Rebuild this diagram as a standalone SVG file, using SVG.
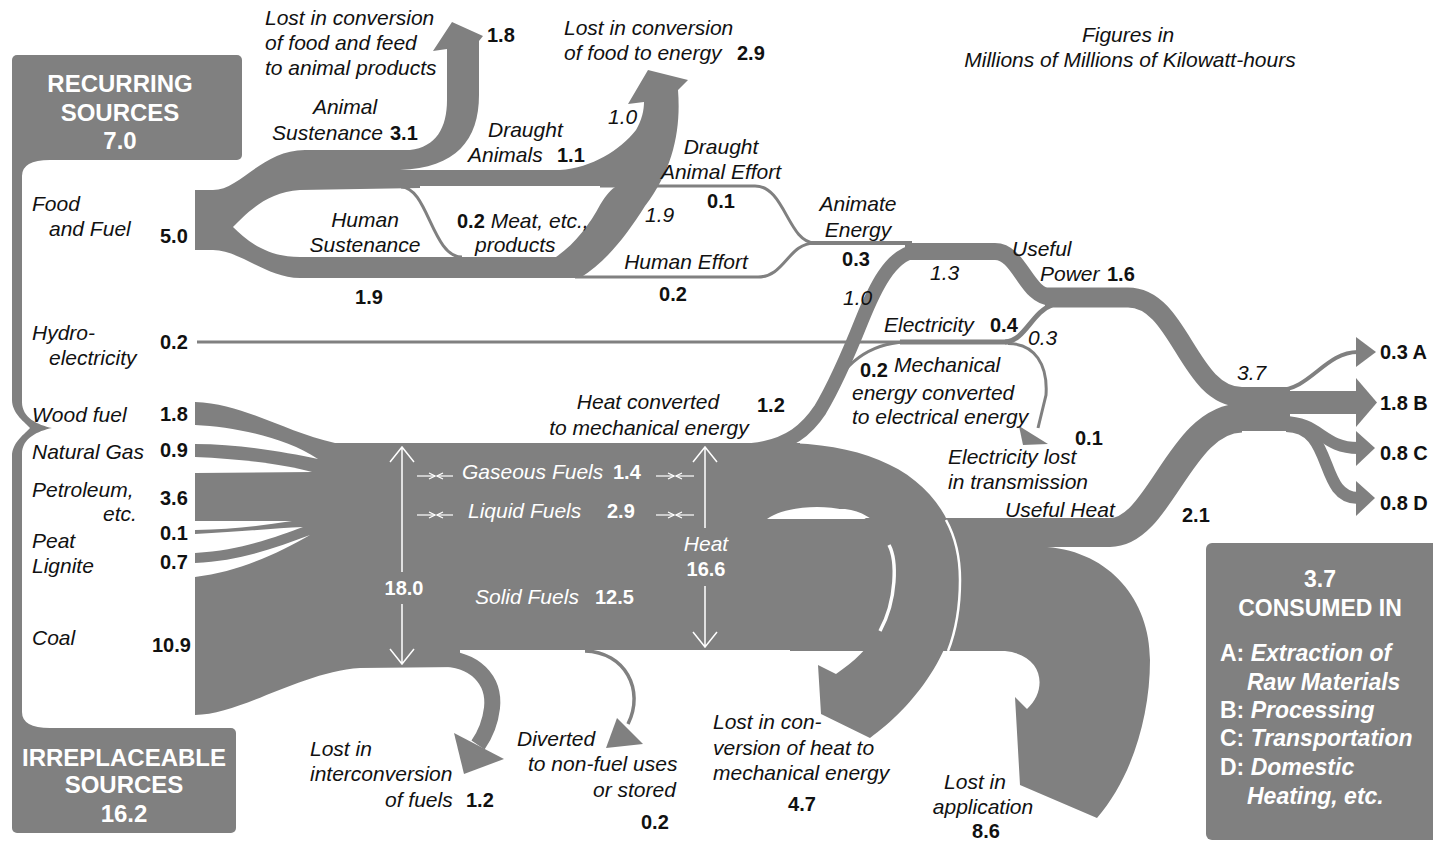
<svg xmlns="http://www.w3.org/2000/svg" width="1433" height="843" viewBox="0 0 1433 843">
<defs>
<style>
.g{fill:#808080}
.s{fill:none;stroke:#808080}
.ws{fill:#fff}
.wl{fill:none;stroke:#fff;stroke-width:1.5}
.wa{fill:none;stroke:#fff;stroke-width:1.2}
text{font-family:"Liberation Sans",Arial,Helvetica,sans-serif}
.i{font-style:italic;font-size:21px;fill:#111}
.n{font-style:normal;font-weight:bold;font-size:20px;fill:#111}
.bx{font-weight:bold;font-size:24px;fill:#fff}
.wi{font-style:italic;font-size:21px;fill:#fff}
.wn{font-style:normal;font-weight:bold;font-size:20px;fill:#fff}
.bt{font-weight:bold;font-size:23px;fill:#fff}
</style>
<marker id="sa" viewBox="0 0 8 8" refX="7" refY="4" markerWidth="8" markerHeight="8" markerUnits="userSpaceOnUse" orient="auto"><path d="M1,1 L7,4 L1,7" fill="none" stroke="#fff" stroke-width="1.2"/></marker>
</defs>
<rect width="1433" height="843" fill="#fff"/>

<g id="connectors">
  <!-- source bracket -->
  <path class="g" d="M12,150 L50,150 L50,160 Q22,160 22,176 L22,402 C22,418 38,425 52,428 C38,431 22,438 22,454 L22,712 Q22,728 50,728 L50,740 L12,740 L12,456 C12,442 26,433 30,428 C26,423 12,414 12,400 Z"/>
  <!-- food: animal sustenance, lost 1.8, human sustenance start -->
  <path class="g" d="M195,190 L213,190 C240,190 262,150 305,150 L410,150 C436,147 447,128 447,100 L447,49 L433,51 L452,22 L483,36 L479,41 L479,95 C479,140 456,168 400,170 L420,170 L420,188 L300,190 C266,192 246,214 233,227 C246,240 266,257 300,257 L440,257 L440,278 L300,278 C266,278 240,250 213,250 L195,250 Z"/>
  <!-- draught animals + human sustenance + lost 2.9 -->
  <path class="g" d="M400,170 L560,170 C592,168 620,150 636,130 C642,120 644,110 644,102 L628,104 L648,70 L688,80 L678,90 C681,128 674,168 645,206 C626,236 606,262 580,278 L440,278 L440,257 L556,257 C575,244 590,224 600,205 C606,195 611,189 617,186 L400,186 Z"/>
  <path class="s" stroke-width="3" d="M401,187 C428,187 432,257 462,257"/>
  <path class="s" stroke-width="3" d="M600,186 L755,186 C785,186 788,243 815,243"/>
  <path class="s" stroke-width="3" d="M575,277 L758,277 C785,277 788,243 815,243"/>
  <path class="s" stroke-width="4" d="M810,243 L912,243"/>
  <!-- hydro / electricity -->
  <path class="s" stroke-width="3" d="M197,342 L905,342"/>
  <path class="s" stroke-width="5" d="M900,342 L1010,342"/>
  <!-- fuels block -->
  <path class="g" d="M195,402 C245,404 285,432 335,443 L800,443 L800,650 L460,650 L460,667 L360,668 C300,672 240,715 195,715 Z"/>
  <!-- heat converted to mechanical -->
  <path class="s" stroke-width="14" d="M752,450 C790,446 808,428 820,410 C835,385 850,350 862,320 C875,288 890,256 915,251"/>
  <path class="s" stroke-width="3" d="M826,400 C838,374 860,344 905,342"/>
  <!-- useful power -->
  <path class="s" stroke-width="17" d="M905,251.5 L995,251.5 C1020,251.5 1026,297.5 1052,297.5"/>
  <path class="s" stroke-width="5" d="M1005,342 C1025,341 1032,312 1052,305"/>
  <path class="s" stroke-width="20" d="M1045,297.5 L1128,297.5 C1180,297.5 1188,397 1242,397"/>
  <!-- electricity lost -->
  <path class="s" stroke-width="3" d="M1008,343.5 C1035,343.5 1048,365 1046,395 L1038,428"/>
  <polygon class="g" points="1019,426 1048,444 1023,445"/>
  <!-- lost in interconversion -->
  <path class="s" stroke-width="16" d="M440,658.5 C475,658.5 495,680 492,708 C490,725 485,735 478,745"/>
  <polygon class="g" points="454,733 504,759 464,774"/>
  <!-- diverted -->
  <path class="s" stroke-width="3.5" d="M585,651 C625,652 645,690 628,724"/>
  <polygon class="g" points="617,718 643,744 606,748"/>
  <!-- lost in application 8.6 -->
  <path class="g" d="M790,547 L1047,547 C1110,552 1150,600 1150,660 C1150,720 1130,780 1097,818 L1020,785 L1015,697 L1027,709 C1048,690 1044,655 1005,651 L790,651 Z"/>
  <!-- useful heat -->
  <path class="s" stroke-width="29" d="M780,532.5 L1110,532.5 C1160,532.5 1180,418 1242,418"/>
  <!-- lost in conversion of heat 4.7 -->
  <path class="g" d="M780,443 C890,443 960,490 960,580 C960,650 912,708 870,738 L821,714 L818,665 L836,674 C872,650 896,615 896,578 C896,540 878,513 845,509 L780,509 Z"/>
  <!-- junction and outputs -->
  <rect class="g" x="1235" y="387" width="55" height="44"/>
  <path class="s" stroke-width="4" d="M1278,390 C1310,390 1325,352 1358,352"/>
  <polygon class="g" points="1356,337 1376,352 1356,367"/>
  <rect class="g" x="1285" y="391" width="73" height="23"/>
  <polygon class="g" points="1356,378 1377,402.5 1356,427"/>
  <path class="s" stroke-width="12" d="M1283,422 C1320,422 1322,448 1358,448"/>
  <polygon class="g" points="1356,431 1375,448 1356,466"/>
  <path class="s" stroke-width="12" d="M1286,426 C1335,426 1318,498 1358,498"/>
  <polygon class="g" points="1356,481 1375,498 1356,516"/>
  <!-- white separators -->
  <path class="ws" d="M195,425 C235,427 285,437 318,459 C285,452 240,444 195,444 Z"/>
  <path class="ws" d="M195,457 C245,459 285,465 312,472 L195,473 Z"/>
  <path class="ws" d="M195,521 L292,521 C260,526 230,530 195,530 Z"/>
  <path class="ws" d="M195,534 C240,532 275,528 303,527 C280,535 245,550 195,553 Z"/>
  <path class="ws" d="M195,563 C240,561 275,548 310,535 C280,552 240,572 195,577 Z"/>
  <path class="ws" d="M767,519 C787,504 843,502 866,519 Z"/>
  <path fill="none" stroke="#fff" stroke-width="3.5" d="M889,545 C897,560 897,600 880,631"/>
  <path fill="none" stroke="#fff" stroke-width="2.5" d="M946,520 C957,540 960,560 960,580 C960,605 957,628 948,651"/>
  <!-- dimension arrows -->
  <path class="wl" d="M402,447 V572 M402,604 V664 M390,462 L402,447 L414,462 M390,649 L402,664 L414,649"/>
  <path class="wl" d="M705,447 V528 M705,586 V647 M693,462 L705,447 L717,462 M693,632 L705,647 L717,632"/>
  <g class="wa">
    <line x1="417" y1="476" x2="435" y2="476" marker-end="url(#sa)"/>
    <line x1="453" y1="476" x2="437" y2="476" marker-end="url(#sa)"/>
    <line x1="656" y1="476" x2="674" y2="476" marker-end="url(#sa)"/>
    <line x1="694" y1="476" x2="676" y2="476" marker-end="url(#sa)"/>
    <line x1="417" y1="515" x2="435" y2="515" marker-end="url(#sa)"/>
    <line x1="453" y1="515" x2="437" y2="515" marker-end="url(#sa)"/>
    <line x1="656" y1="515" x2="674" y2="515" marker-end="url(#sa)"/>
    <line x1="694" y1="515" x2="676" y2="515" marker-end="url(#sa)"/>
  </g>
</g>

<g id="node-recurring">
  <rect class="g" x="12" y="55" width="230" height="105" rx="5"/>
  <text class="bx" x="120" y="92" text-anchor="middle">RECURRING</text>
  <text class="bx" x="120" y="121" text-anchor="middle">SOURCES</text>
  <text class="bx" x="120" y="149" text-anchor="middle">7.0</text>
</g>
<g id="node-irreplaceable">
  <rect class="g" x="12" y="728" width="224" height="105" rx="5"/>
  <text class="bx" x="124" y="766" text-anchor="middle">IRREPLACEABLE</text>
  <text class="bx" x="124" y="793" text-anchor="middle">SOURCES</text>
  <text class="bx" x="124" y="822" text-anchor="middle">16.2</text>
</g>
<g id="node-consumed">
  <rect class="g" x="1206" y="543" width="240" height="297" rx="6"/>
  <text class="bt" x="1320" y="587" text-anchor="middle">3.7</text>
  <text class="bt" x="1320" y="616" text-anchor="middle">CONSUMED IN</text>
  <text class="bt" x="1220" y="661">A: <tspan font-style="italic">Extraction of</tspan></text>
  <text class="bt" x="1247" y="690" font-style="italic">Raw Materials</text>
  <text class="bt" x="1220" y="718">B: <tspan font-style="italic">Processing</tspan></text>
  <text class="bt" x="1220" y="746">C: <tspan font-style="italic">Transportation</tspan></text>
  <text class="bt" x="1220" y="775">D: <tspan font-style="italic">Domestic</tspan></text>
  <text class="bt" x="1247" y="804" font-style="italic">Heating, etc.</text>
</g>

<g id="node-title">
  <text class="i" x="1128" y="42" text-anchor="middle">Figures in</text>
  <text class="i" x="1130" y="67" text-anchor="middle">Millions of Millions of Kilowatt-hours</text>
</g>

<g id="node-food-fuel">
  <text class="i" x="32" y="211">Food</text>
  <text class="i" x="49" y="236">and Fuel</text>
  <text class="n" x="160" y="243">5.0</text>
</g>
<g id="node-lost-animal-products">
  <text class="i" x="265" y="25">Lost in conversion</text>
  <text class="i" x="265" y="50">of food and feed</text>
  <text class="i" x="265" y="75">to animal products</text>
  <text class="n" x="487" y="42">1.8</text>
</g>
<g id="node-lost-food-energy">
  <text class="i" x="564" y="35">Lost in conversion</text>
  <text class="i" x="564" y="60">of food to energy</text>
  <text class="n" x="737" y="60">2.9</text>
  <text class="i" x="608" y="124">1.0</text>
  <text class="i" x="645" y="222">1.9</text>
</g>
<g id="node-animal-sustenance">
  <text class="i" x="345" y="114" text-anchor="middle">Animal</text>
  <text class="i" x="272" y="140">Sustenance</text>
  <text class="n" x="390" y="140">3.1</text>
</g>
<g id="node-draught-animals">
  <text class="i" x="488" y="137">Draught</text>
  <text class="i" x="468" y="162">Animals</text>
  <text class="n" x="557" y="162">1.1</text>
</g>
<g id="node-draught-effort">
  <text class="i" x="721" y="154" text-anchor="middle">Draught</text>
  <text class="i" x="721" y="179" text-anchor="middle">Animal Effort</text>
  <text class="n" x="721" y="208" text-anchor="middle">0.1</text>
</g>
<g id="node-meat">
  <text class="i" x="457" y="228"><tspan class="n">0.2</tspan> Meat, etc.,</text>
  <text class="i" x="475" y="252">products</text>
</g>
<g id="node-human-sustenance">
  <text class="i" x="365" y="227" text-anchor="middle">Human</text>
  <text class="i" x="365" y="252" text-anchor="middle">Sustenance</text>
  <text class="n" x="369" y="304" text-anchor="middle">1.9</text>
</g>
<g id="node-human-effort">
  <text class="i" x="686" y="269" text-anchor="middle">Human Effort</text>
  <text class="n" x="673" y="301" text-anchor="middle">0.2</text>
</g>
<g id="node-animate">
  <text class="i" x="858" y="211" text-anchor="middle">Animate</text>
  <text class="i" x="858" y="237" text-anchor="middle">Energy</text>
  <text class="n" x="856" y="266" text-anchor="middle">0.3</text>
</g>
<g id="node-useful-power">
  <text class="i" x="1012" y="256">Useful</text>
  <text class="i" x="1040" y="281">Power</text>
  <text class="n" x="1107" y="281">1.6</text>
  <text class="i" x="930" y="280">1.3</text>
  <text class="i" x="843" y="305">1.0</text>
</g>
<g id="node-electricity">
  <text class="i" x="884" y="332">Electricity</text>
  <text class="n" x="990" y="332">0.4</text>
  <text class="i" x="1028" y="345">0.3</text>
</g>
<g id="node-mech-elec">
  <text class="n" x="860" y="377">0.2</text>
  <text class="i" x="894" y="372">Mechanical</text>
  <text class="i" x="852" y="400">energy converted</text>
  <text class="i" x="852" y="424">to electrical energy</text>
</g>
<g id="node-elec-lost">
  <text class="n" x="1075" y="445">0.1</text>
  <text class="i" x="948" y="464">Electricity lost</text>
  <text class="i" x="948" y="489">in transmission</text>
</g>
<g id="node-useful-heat">
  <text class="i" x="1005" y="517">Useful Heat</text>
  <text class="n" x="1182" y="522">2.1</text>
</g>
<g id="node-outputs">
  <text class="i" x="1237" y="380">3.7</text>
  <text class="n" x="1380" y="359">0.3 A</text>
  <text class="n" x="1380" y="410">1.8 B</text>
  <text class="n" x="1380" y="460">0.8 C</text>
  <text class="n" x="1380" y="510">0.8 D</text>
</g>
<g id="node-hydro">
  <text class="i" x="32" y="340">Hydro-</text>
  <text class="i" x="49" y="365">electricity</text>
  <text class="n" x="160" y="349">0.2</text>
</g>
<g id="node-fuel-sources">
  <text class="i" x="32" y="422">Wood fuel</text>
  <text class="n" x="160" y="421">1.8</text>
  <text class="i" x="32" y="459">Natural Gas</text>
  <text class="n" x="160" y="457">0.9</text>
  <text class="i" x="32" y="497">Petroleum,</text>
  <text class="i" x="103" y="521">etc.</text>
  <text class="n" x="160" y="505">3.6</text>
  <text class="n" x="160" y="540">0.1</text>
  <text class="i" x="32" y="548">Peat</text>
  <text class="i" x="32" y="573">Lignite</text>
  <text class="n" x="160" y="569">0.7</text>
  <text class="i" x="32" y="645">Coal</text>
  <text class="n" x="152" y="652">10.9</text>
</g>
<g id="node-fuels">
  <text class="wi" x="462" y="479">Gaseous Fuels</text>
  <text class="wn" x="613" y="479">1.4</text>
  <text class="wi" x="468" y="518">Liquid Fuels</text>
  <text class="wn" x="607" y="518">2.9</text>
  <text class="wi" x="475" y="604">Solid Fuels</text>
  <text class="wn" x="595" y="604">12.5</text>
  <text class="wn" x="404" y="595" text-anchor="middle">18.0</text>
  <text class="wi" x="706" y="551" text-anchor="middle">Heat</text>
  <text class="wn" x="706" y="576" text-anchor="middle">16.6</text>
</g>
<g id="node-heat-mech">
  <text class="i" x="648" y="409" text-anchor="middle">Heat converted</text>
  <text class="i" x="649" y="435" text-anchor="middle">to mechanical energy</text>
  <text class="n" x="757" y="412">1.2</text>
</g>
<g id="node-lost-interconversion">
  <text class="i" x="310" y="756">Lost in</text>
  <text class="i" x="310" y="781">interconversion</text>
  <text class="i" x="385" y="807">of fuels</text>
  <text class="n" x="466" y="807">1.2</text>
</g>
<g id="node-diverted">
  <text class="i" x="517" y="746">Diverted</text>
  <text class="i" x="528" y="771">to non-fuel uses</text>
  <text class="i" x="593" y="797">or stored</text>
  <text class="n" x="641" y="829">0.2</text>
</g>
<g id="node-lost-heat-mech">
  <text class="i" x="713" y="729">Lost in con-</text>
  <text class="i" x="713" y="755">version of heat to</text>
  <text class="i" x="713" y="780">mechanical energy</text>
  <text class="n" x="802" y="811" text-anchor="middle">4.7</text>
</g>
<g id="node-lost-application">
  <text class="i" x="975" y="789" text-anchor="middle">Lost in</text>
  <text class="i" x="983" y="814" text-anchor="middle">application</text>
  <text class="n" x="986" y="838" text-anchor="middle">8.6</text>
</g>
</svg>
